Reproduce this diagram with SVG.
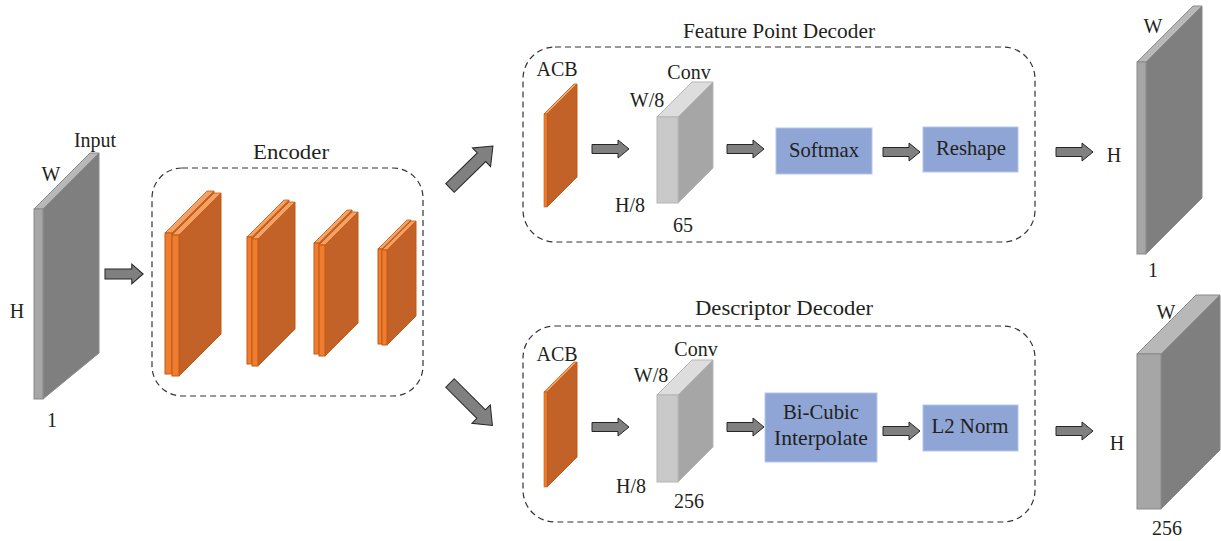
<svg xmlns="http://www.w3.org/2000/svg" width="1221" height="541" viewBox="0 0 1221 541">
<style>
text{font-family:"Liberation Serif","Times New Roman",serif;fill:#231F20;text-anchor:middle}
.lbl{font-size:20px}
.ttl{font-size:21px}
.box{font-size:21px}
.dash{fill:none;stroke:#333;stroke-width:1.2;stroke-dasharray:6 4}
.blue{fill:#8FA5D6;stroke:#B4C7E7;stroke-width:1}
.arr{fill:#808080;stroke:#262626;stroke-width:1}
.gF{fill:#A6A6A6;stroke:#8A8A8A;stroke-width:1}
.gT{fill:#B8B8B8;stroke:#8A8A8A;stroke-width:1}
.gS{fill:#7F7F7F;stroke:#8A8A8A;stroke-width:1}
.cF{fill:#C9C9C9;stroke:#B5B5B5;stroke-width:1}
.cT{fill:#DDDDDD;stroke:#B5B5B5;stroke-width:1}
.cS{fill:#A6A6A6;stroke:#B5B5B5;stroke-width:1}
.oF{fill:#ED7D31;stroke:#C55A11;stroke-width:1}
.oT{fill:#F4A165;stroke:#C55A11;stroke-width:0.8}
.oS{fill:#C26128;stroke:#C55A11;stroke-width:1}
</style>
<defs>
<path id="ha" d="M0,-4.5 H26 V-9 L37,0 L26,9 V4.5 H0 Z"/>
<path id="da" d="M0,-6 H44 V-13 L60,0 L44,13 V6 H0 Z"/>
</defs>

<g id="input">
<polygon class="gS" points="43,209 99,153 99,353 43,399"/>
<polygon class="gT" points="34,209 90,153 99,153 43,209"/>
<rect class="gF" x="34" y="209" width="9" height="190"/>
<text class="lbl" x="95" y="147">Input</text>
<text class="lbl" x="51" y="181">W</text>
<text class="lbl" x="17" y="318">H</text>
<text class="lbl" x="52" y="427">1</text>
</g>

<g id="encoder">
<rect class="dash" x="152" y="168" width="271" height="228" rx="30"/>
<text class="ttl" x="291" y="159" textLength="76" lengthAdjust="spacingAndGlyphs">Encoder</text>
<!-- pair 1 -->
<polygon class="oS" points="172,233 214,191 214,332 172,374"/>
<polygon class="oT" points="165,233 207,191 214,191 172,233"/>
<rect class="oF" x="165" y="233" width="7" height="141"/>
<polygon class="oS" points="179,235 221,193 221,334 179,376"/>
<polygon class="oT" points="172,235 214,193 221,193 179,235"/>
<rect class="oF" x="172" y="235" width="7" height="141"/>
<!-- pair 2 -->
<polygon class="oS" points="252,237 289,200 289,327 252,364"/>
<polygon class="oT" points="247,237 284,200 289,200 252,237"/>
<rect class="oF" x="247" y="237" width="5" height="127"/>
<polygon class="oS" points="258,239 295,202 295,329 258,366"/>
<polygon class="oT" points="252,239 289,202 295,202 258,239"/>
<rect class="oF" x="252" y="239" width="6" height="127"/>
<!-- pair 3 -->
<polygon class="oS" points="319,243 352,210 352,321 319,354"/>
<polygon class="oT" points="314,243 347,210 352,210 319,243"/>
<rect class="oF" x="314" y="243" width="5" height="111"/>
<polygon class="oS" points="325,245 358,212 358,323 325,356"/>
<polygon class="oT" points="319,245 352,212 358,212 325,245"/>
<rect class="oF" x="319" y="245" width="6" height="111"/>
<!-- pair 4 -->
<polygon class="oS" points="382,249 411,220 411,315 382,344"/>
<polygon class="oT" points="378,249 407,220 411,220 382,249"/>
<rect class="oF" x="378" y="249" width="4" height="95"/>
<polygon class="oS" points="387,250 416,221 416,316 387,345"/>
<polygon class="oT" points="382,250 411,221 416,221 387,250"/>
<rect class="oF" x="382" y="250" width="5" height="95"/>
</g>

<g id="fpd">
<rect class="dash" x="523" y="47" width="512" height="195" rx="32"/>
<text class="ttl" x="779" y="38" textLength="192" lengthAdjust="spacingAndGlyphs">Feature Point Decoder</text>
<g id="fpd-acb">
<polygon class="oS" points="547,114 577,84 577,177 547,207"/>
<polygon class="oT" points="544,114 574,84 577,84 547,114"/>
<rect class="oF" x="544" y="114" width="3" height="93" style="stroke-width:0.6"/>
<text class="lbl" x="557" y="76">ACB</text>
</g>
<g id="fpd-conv">
<polygon class="cS" points="678,117 713,82 713,168 678,203"/>
<polygon class="cT" points="657,117 692,82 713,82 678,117"/>
<rect class="cF" x="657" y="117" width="21" height="86"/>
<text class="lbl" x="689" y="79">Conv</text>
<text class="lbl" x="647" y="107">W/8</text>
<text class="lbl" x="630" y="212">H/8</text>
<text class="lbl" x="683" y="232">65</text>
</g>
<g id="softmax">
<rect class="blue" x="776" y="128" width="96" height="46"/>
<text class="box" x="824" y="157" textLength="70" lengthAdjust="spacingAndGlyphs">Softmax</text>
</g>
<g id="reshape">
<rect class="blue" x="923" y="127" width="95" height="45"/>
<text class="box" x="971" y="155" textLength="70" lengthAdjust="spacingAndGlyphs">Reshape</text>
</g>
</g>

<g id="fpd-out">
<polygon class="gS" points="1146,62 1202,6 1202,198 1146,254"/>
<polygon class="gT" points="1137,62 1193,6 1202,6 1146,62"/>
<rect class="gF" x="1137" y="62" width="9" height="192"/>
<text class="lbl" x="1114" y="162">H</text>
<text class="lbl" x="1153" y="33">W</text>
<text class="lbl" x="1153" y="277">1</text>
</g>

<g id="dd">
<rect class="dash" x="523" y="326" width="512" height="196" rx="32"/>
<text class="ttl" x="784" y="315" textLength="178" lengthAdjust="spacingAndGlyphs">Descriptor Decoder</text>
<g id="dd-acb">
<polygon class="oS" points="547,392 577,362 577,457 547,487"/>
<polygon class="oT" points="544,392 574,362 577,362 547,392"/>
<rect class="oF" x="544" y="392" width="3" height="95" style="stroke-width:0.6"/>
<text class="lbl" x="557" y="361">ACB</text>
</g>
<g id="dd-conv">
<polygon class="cS" points="678,395 713,360 713,447 678,482"/>
<polygon class="cT" points="657,395 692,360 713,360 678,395"/>
<rect class="cF" x="657" y="395" width="21" height="87"/>
<text class="lbl" x="696" y="356">Conv</text>
<text class="lbl" x="651" y="382">W/8</text>
<text class="lbl" x="631" y="493">H/8</text>
<text class="lbl" x="689" y="508">256</text>
</g>
<g id="bicubic">
<rect class="blue" x="765" y="393" width="112" height="69"/>
<text class="box" x="821" y="419" textLength="76" lengthAdjust="spacingAndGlyphs">Bi-Cubic</text>
<text class="box" x="821" y="445" textLength="94" lengthAdjust="spacingAndGlyphs">Interpolate</text>
</g>
<g id="l2norm">
<rect class="blue" x="923" y="405" width="95" height="46"/>
<text class="box" x="970" y="433" textLength="77" lengthAdjust="spacingAndGlyphs">L2 Norm</text>
</g>
</g>

<g id="dd-out">
<polygon class="gS" points="1161,354 1220,295 1220,450 1161,509"/>
<polygon class="gT" points="1137,354 1196,295 1220,295 1161,354"/>
<rect class="gF" x="1137" y="354" width="24" height="155"/>
<text class="lbl" x="1117" y="450">H</text>
<text class="lbl" x="1166" y="319">W</text>
<text class="lbl" x="1167" y="535">256</text>
</g>

<g id="connectors">
<use href="#ha" class="arr" transform="translate(105,274) scale(1.03,1.1)"/>
<use href="#da" class="arr" transform="translate(450,188) rotate(-44.3)"/>
<use href="#da" class="arr" transform="translate(450,383) rotate(45)"/>
<use href="#ha" class="arr" transform="translate(592,149)"/>
<use href="#ha" class="arr" transform="translate(727,149)"/>
<use href="#ha" class="arr" transform="translate(883,152)"/>
<use href="#ha" class="arr" transform="translate(1056,152)"/>
<use href="#ha" class="arr" transform="translate(592,427)"/>
<use href="#ha" class="arr" transform="translate(727,427)"/>
<use href="#ha" class="arr" transform="translate(883,431)"/>
<use href="#ha" class="arr" transform="translate(1056,431)"/>
</g>
</svg>
